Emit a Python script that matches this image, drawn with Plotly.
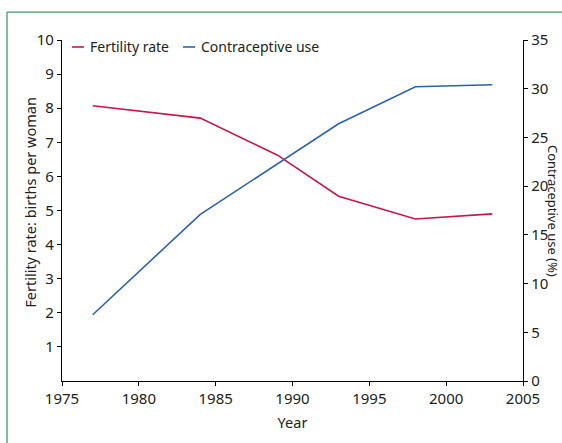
import plotly.graph_objects as go

years_fert = [1977, 1984, 1989, 1993, 1998, 2003]
fertility_rate = [8.07, 7.71, 6.63, 5.42, 4.75, 4.90]

years_contra = [1977, 1984, 1993, 1998, 2003]
contraceptive_use = [6.8, 17.1, 26.4, 30.2, 30.4]

series_names = ["Fertility rate", "Contraceptive use"]

x_ticks = [1975, 1980, 1985, 1990, 1995, 2000, 2005]
left_ticks = [1, 2, 3, 4, 5, 6, 7, 8, 9, 10]
right_ticks = [0, 5, 10, 15, 20, 25, 30, 35]

FONT = "Noto Sans"
RED = "#c8164c"
BLUE = "#2f62ad"
GREEN = "#3f9c6c"
TXT = "#222"

L, R, T, B = 62, 523, 40, 381.5
W, H = 562, 443
PW, PH = R - L, B - T


def px(xp):
    return (xp - L) / PW


def py(yp):
    return (B - yp) / PH


fig = go.Figure()
fig.add_trace(go.Scatter(x=years_fert, y=fertility_rate, mode="lines",
                         name=series_names[0], line=dict(color=RED, width=1.6),
                         yaxis="y"))
fig.add_trace(go.Scatter(x=years_contra, y=contraceptive_use, mode="lines",
                         name=series_names[1], line=dict(color=BLUE, width=1.6),
                         yaxis="y2"))

axis_common = dict(showgrid=False, zeroline=False, showline=True, linecolor="black",
                   linewidth=1.3, ticks="outside", ticklen=4, tickcolor="black",
                   automargin=False,
                   tickfont=dict(family=FONT, size=15, color=TXT))

# manual legend (short line keys as in the reference)
legend_items = [(series_names[0], RED, 72), (series_names[1], BLUE, 183)]
shapes = [
    dict(type="line", xref="paper", yref="paper",
         x0=px(7), x1=px(570), y0=py(12), y1=py(12),
         line=dict(color=GREEN, width=1.3)),
    dict(type="line", xref="paper", yref="paper",
         x0=px(7), x1=px(7), y0=py(12), y1=py(450),
         line=dict(color=GREEN, width=1.3)),
]
annotations = [
    dict(text="Contraceptive use (%)", xref="paper", yref="paper",
         x=px(553.5), y=0.5, xanchor="center", yanchor="middle",
         textangle=90, showarrow=False, borderpad=0,
         font=dict(family=FONT, size=13, color=TXT)),
    dict(text="Fertility rate: births per woman", xref="paper", yref="paper",
         x=px(30), y=py(203), xanchor="center", yanchor="middle",
         textangle=-90, showarrow=False,
         font=dict(family=FONT, size=14.5, color=TXT)),
]
for name, col, x0 in legend_items:
    shapes.append(dict(type="line", xref="paper", yref="paper",
                       x0=px(x0), x1=px(x0 + 12), y0=py(47), y1=py(47),
                       line=dict(color=col, width=1.6)))
    annotations.append(dict(text=name, xref="paper", yref="paper",
                            x=px(x0 + 16), y=py(46.5), xanchor="left", yanchor="middle",
                            showarrow=False,
                            font=dict(family=FONT, size=14, color=TXT)))

fig.update_layout(
    width=W, height=H,
    margin=dict(l=L, r=W - R, t=T, b=H - B, pad=0, autoexpand=False),
    paper_bgcolor="white", plot_bgcolor="white",
    font=dict(family=FONT, size=14, color=TXT),
    showlegend=False,
    xaxis=dict(range=[1975, 2005], tickvals=x_ticks, **axis_common,
               title=dict(text="Year", font=dict(family=FONT, size=14.5), standoff=10)),
    yaxis=dict(range=[0, 10], tickvals=left_ticks, **axis_common),
    yaxis2=dict(range=[0, 35], tickvals=right_ticks, overlaying="y", side="right",
                anchor="x", **axis_common),
    annotations=annotations,
    shapes=shapes,
)

fig.write_html("out.html", config={"displayModeBar": False},
               post_script="document.body.style.margin='0px';document.body.style.overflow='hidden';")
